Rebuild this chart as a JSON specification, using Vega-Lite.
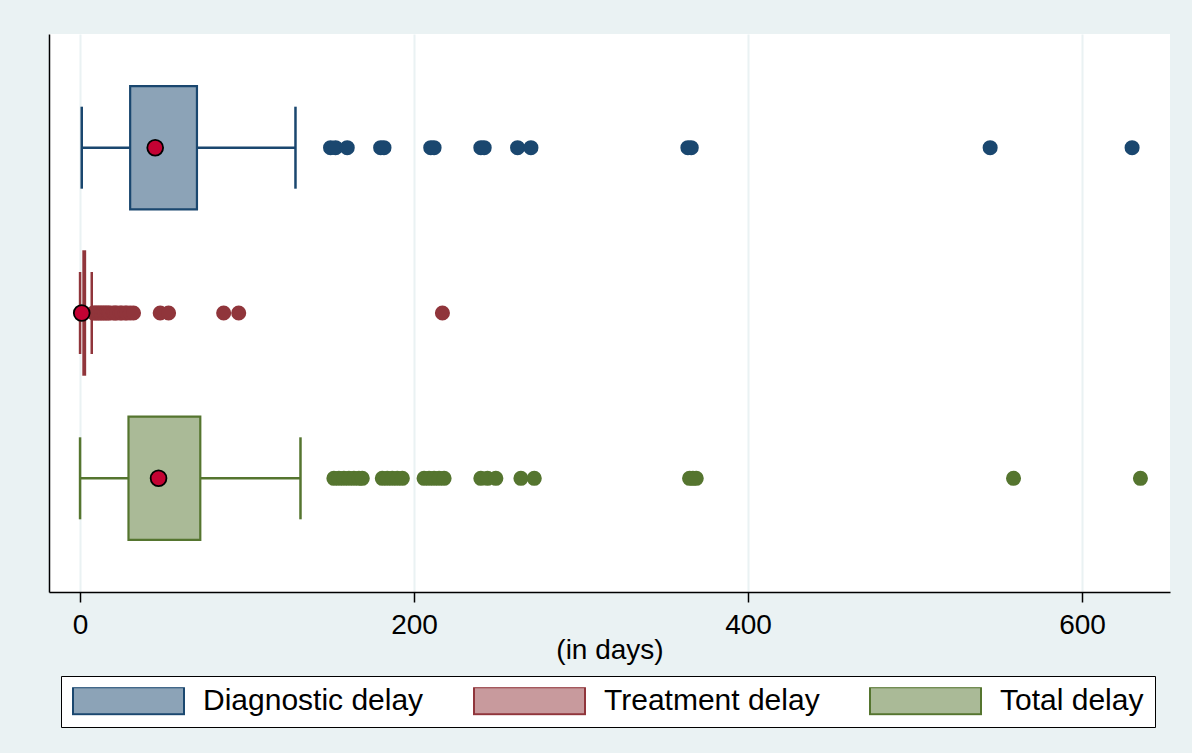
{
  "$schema": "https://vega.github.io/schema/vega-lite/v6.json",
  "width": 1121,
  "height": 558,
  "autosize": {"type": "none"},
  "padding": {"left": 49, "top": 34, "right": 22, "bottom": 161},
  "background": "#EAF2F3",
  "view": {"fill": "white", "stroke": null},
  "datasets": {
    "boxes": [
      {"group": "Diagnostic delay", "lo": 1, "q1": 30, "q3": 70, "hi": 129},
      {"group": "Treatment delay", "lo": 0, "q1": 2, "q3": 3, "hi": 7},
      {"group": "Total delay", "lo": 0, "q1": 29, "q3": 72, "hi": 132}
    ],
    "means": [
      {"group": "Diagnostic delay", "mean": 45},
      {"group": "Treatment delay", "mean": 1},
      {"group": "Total delay", "mean": 47}
    ],
    "outliers": [
      {"group": "Diagnostic delay", "value": 150},
      {"group": "Diagnostic delay", "value": 153},
      {"group": "Diagnostic delay", "value": 160},
      {"group": "Diagnostic delay", "value": 180},
      {"group": "Diagnostic delay", "value": 182},
      {"group": "Diagnostic delay", "value": 210},
      {"group": "Diagnostic delay", "value": 212},
      {"group": "Diagnostic delay", "value": 240},
      {"group": "Diagnostic delay", "value": 242},
      {"group": "Diagnostic delay", "value": 262},
      {"group": "Diagnostic delay", "value": 270},
      {"group": "Diagnostic delay", "value": 364},
      {"group": "Diagnostic delay", "value": 366},
      {"group": "Diagnostic delay", "value": 545},
      {"group": "Diagnostic delay", "value": 630},
      {"group": "Treatment delay", "value": 8},
      {"group": "Treatment delay", "value": 9},
      {"group": "Treatment delay", "value": 10},
      {"group": "Treatment delay", "value": 11},
      {"group": "Treatment delay", "value": 12},
      {"group": "Treatment delay", "value": 13},
      {"group": "Treatment delay", "value": 14},
      {"group": "Treatment delay", "value": 15},
      {"group": "Treatment delay", "value": 16},
      {"group": "Treatment delay", "value": 17},
      {"group": "Treatment delay", "value": 18},
      {"group": "Treatment delay", "value": 20},
      {"group": "Treatment delay", "value": 21},
      {"group": "Treatment delay", "value": 22},
      {"group": "Treatment delay", "value": 24},
      {"group": "Treatment delay", "value": 25},
      {"group": "Treatment delay", "value": 27},
      {"group": "Treatment delay", "value": 28},
      {"group": "Treatment delay", "value": 30},
      {"group": "Treatment delay", "value": 32},
      {"group": "Treatment delay", "value": 48},
      {"group": "Treatment delay", "value": 53},
      {"group": "Treatment delay", "value": 86},
      {"group": "Treatment delay", "value": 95},
      {"group": "Treatment delay", "value": 217},
      {"group": "Total delay", "value": 152},
      {"group": "Total delay", "value": 155},
      {"group": "Total delay", "value": 158},
      {"group": "Total delay", "value": 161},
      {"group": "Total delay", "value": 164},
      {"group": "Total delay", "value": 167},
      {"group": "Total delay", "value": 169},
      {"group": "Total delay", "value": 181},
      {"group": "Total delay", "value": 184},
      {"group": "Total delay", "value": 187},
      {"group": "Total delay", "value": 190},
      {"group": "Total delay", "value": 193},
      {"group": "Total delay", "value": 206},
      {"group": "Total delay", "value": 209},
      {"group": "Total delay", "value": 212},
      {"group": "Total delay", "value": 215},
      {"group": "Total delay", "value": 218},
      {"group": "Total delay", "value": 240},
      {"group": "Total delay", "value": 244},
      {"group": "Total delay", "value": 249},
      {"group": "Total delay", "value": 264},
      {"group": "Total delay", "value": 272},
      {"group": "Total delay", "value": 365},
      {"group": "Total delay", "value": 367},
      {"group": "Total delay", "value": 369},
      {"group": "Total delay", "value": 559},
      {"group": "Total delay", "value": 635}
    ]
  },
  "encoding": {
    "y": {
      "field": "group",
      "type": "nominal",
      "scale": {
        "domain": ["Diagnostic delay", "Treatment delay", "Total delay"],
        "paddingInner": 0.2545,
        "paddingOuter": 0.315
      },
      "axis": {
        "title": null,
        "labels": false,
        "ticks": false,
        "grid": false,
        "domain": true,
        "domainColor": "black",
        "domainWidth": 1.5
      }
    }
  },
  "layer": [
    {
      "data": {"name": "boxes"},
      "mark": {"type": "rule", "strokeWidth": 2.5},
      "encoding": {
        "x": {
          "field": "lo",
          "type": "quantitative",
          "scale": {"domain": [-18.6, 652.7], "nice": false, "zero": false},
          "axis": {
            "values": [0, 200, 400, 600],
            "title": "(in days)",
            "grid": true,
            "gridColor": "#EAF2F3",
            "gridWidth": 2,
            "tickSize": 10,
            "tickColor": "black",
            "tickWidth": 1.5,
            "domainColor": "black",
            "domainWidth": 1.5,
            "labelFont": "Liberation Sans",
            "labelFontSize": 28,
            "labelColor": "black",
            "labelPadding": 9,
            "titleFont": "Liberation Sans",
            "titleFontSize": 28,
            "titleFontWeight": "normal",
            "titleColor": "black",
            "titlePadding": -3
          }
        },
        "x2": {"field": "q1"},
        "color": {
          "field": "group",
          "type": "nominal",
          "scale": {
            "domain": ["Diagnostic delay", "Total delay", "Treatment delay"],
            "range": ["#1A476F", "#55752F", "#90353B"]
          },
          "legend": null
        }
      }
    },
    {
      "data": {"name": "boxes"},
      "mark": {"type": "rule", "strokeWidth": 2.5},
      "encoding": {
        "x": {"field": "q3", "type": "quantitative"},
        "x2": {"field": "hi"},
        "color": {"field": "group", "type": "nominal", "legend": null}
      }
    },
    {
      "data": {"name": "boxes"},
      "mark": {"type": "tick", "orient": "vertical", "size": 82, "thickness": 2.5, "opacity": 1},
      "encoding": {
        "x": {"field": "lo", "type": "quantitative"},
        "color": {"field": "group", "type": "nominal", "legend": null}
      }
    },
    {
      "data": {"name": "boxes"},
      "mark": {"type": "tick", "orient": "vertical", "size": 82, "thickness": 2.5, "opacity": 1},
      "encoding": {
        "x": {"field": "hi", "type": "quantitative"},
        "color": {"field": "group", "type": "nominal", "legend": null}
      }
    },
    {
      "data": {"name": "boxes"},
      "mark": {"type": "rect", "strokeWidth": 2.2, "opacity": 1},
      "encoding": {
        "x": {"field": "q1", "type": "quantitative"},
        "x2": {"field": "q3"},
        "fill": {
          "field": "group",
          "type": "nominal",
          "scale": {
            "domain": ["Diagnostic delay", "Treatment delay", "Total delay"],
            "range": ["#8CA3B7", "#C89A9D", "#AABA97"]
          },
          "legend": {
            "title": null,
            "orient": "none",
            "legendX": 12,
            "legendY": 642,
            "direction": "horizontal",
            "padding": 11,
            "strokeColor": "black",
            "fillColor": "white",
            "symbolType": "M-1,-0.243H1V0.243H-1Z",
            "symbolSize": 12321,
            "symbolStrokeWidth": 2,
            "symbolOpacity": 1,
            "clipHeight": 27,
            "labelFont": "Liberation Sans",
            "labelFontSize": 30,
            "labelColor": "black",
            "labelOffset": 18,
            "labelLimit": 400,
            "columnPadding": 49
          }
        },
        "stroke": {
          "field": "group",
          "type": "nominal",
          "scale": {
            "domain": ["Diagnostic delay", "Treatment delay", "Total delay"],
            "range": ["#1A476F", "#90353B", "#55752F"]
          },
          "legend": {
            "title": null,
            "orient": "none",
            "legendX": 12,
            "legendY": 642,
            "direction": "horizontal",
            "padding": 11,
            "strokeColor": "black",
            "fillColor": "white",
            "symbolType": "M-1,-0.243H1V0.243H-1Z",
            "symbolSize": 12321,
            "symbolStrokeWidth": 2,
            "symbolOpacity": 1,
            "clipHeight": 27,
            "labelFont": "Liberation Sans",
            "labelFontSize": 30,
            "labelColor": "black",
            "labelOffset": 18,
            "labelLimit": 400,
            "columnPadding": 49
          }
        }
      }
    },
    {
      "data": {"name": "outliers"},
      "mark": {"type": "circle", "size": 227, "opacity": 1},
      "encoding": {
        "x": {"field": "value", "type": "quantitative"},
        "color": {"field": "group", "type": "nominal", "legend": null}
      }
    },
    {
      "data": {"name": "means"},
      "mark": {"type": "circle", "size": 250, "opacity": 1, "fill": "#C40233", "stroke": "black", "strokeWidth": 1.8},
      "encoding": {
        "x": {"field": "mean", "type": "quantitative"}
      }
    }
  ]
}
